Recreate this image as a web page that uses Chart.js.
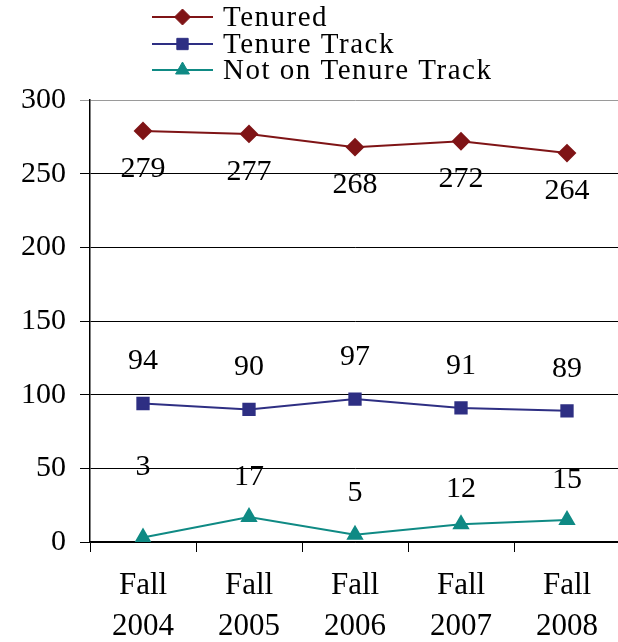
<!DOCTYPE html>
<html>
<head>
<meta charset="utf-8">
<script src="https://cdn.jsdelivr.net/npm/chart.js@4/dist/chart.umd.min.js"></script>
<style>
  html, body { margin: 0; padding: 0; background: #fff; overflow: hidden; }
  /* a bit wider than the window so the plot runs off the right edge */
  #wrap { width: 630px; height: 642px; }
</style>
</head>
<body>
<div id="wrap"><canvas id="chart"></canvas></div>
<script>
const categories = [['Fall', '2004'], ['Fall', '2005'], ['Fall', '2006'], ['Fall', '2007'], ['Fall', '2008']];
const tenured = [279, 277, 268, 272, 264];
const tenureTrack = [94, 90, 97, 91, 89];
const notOnTrack = [3, 17, 5, 12, 15];
const yTicks = [0, 50, 100, 150, 200, 250, 300];

const serif = '"Liberation Serif", "DejaVu Serif", serif';

// vertical legend with line + marker, drawn above the plot
const legendPlugin = {
  id: 'stackedLegend',
  afterDraw(chart) {
    const ctx = chart.ctx;
    const x0 = 152, x1 = 213, tx = 223;
    const rows = [17, 44, 70];
    ctx.save();
    chart.data.datasets.forEach((ds, i) => {
      const y = rows[i];
      ctx.strokeStyle = ds.borderColor;
      ctx.lineWidth = 2;
      ctx.beginPath();
      ctx.moveTo(x0, y);
      ctx.lineTo(x1, y);
      ctx.stroke();

      ctx.fillStyle = ds.pointBackgroundColor;
      ctx.strokeStyle = ds.pointBorderColor;
      ctx.lineWidth = 1;
      Chart.helpers.drawPoint(ctx, {
        pointStyle: ds.pointStyle,
        radius: ds.pointRadius,
        rotation: 0,
        borderWidth: 1
      }, (x0 + x1) / 2, y);

      ctx.fillStyle = '#000';
      ctx.font = '29px ' + serif;
      ctx.letterSpacing = '1.5px';
      ctx.textAlign = 'left';
      ctx.textBaseline = 'middle';
      ctx.fillText(ds.label, tx, y + 1);
    });
    ctx.restore();
  }
};

// value labels next to each point
const valueLabels = {
  id: 'valueLabels',
  afterDatasetsDraw(chart) {
    const ctx = chart.ctx;
    ctx.save();
    ctx.font = '30px ' + serif;
    ctx.fillStyle = '#000';
    ctx.textAlign = 'center';
    ctx.textBaseline = 'middle';
    chart.data.datasets.forEach((ds, i) => {
      const meta = chart.getDatasetMeta(i);
      meta.data.forEach((pt, j) => {
        const off = Array.isArray(ds.labelOffset) ? ds.labelOffset[j] : ds.labelOffset;
        ctx.fillText(String(ds.data[j]), pt.x, pt.y + off);
      });
    });
    ctx.restore();
  }
};

new Chart(document.getElementById('chart'), {
  type: 'line',
  data: {
    labels: categories,
    datasets: [
      {
        label: 'Tenured',
        data: tenured,
        borderColor: '#7f1416',
        backgroundColor: '#7f1416',
        pointBackgroundColor: '#7f1416',
        pointBorderColor: '#7f1416',
        pointStyle: 'rectRot',
        pointRadius: 8,
        borderWidth: 2,
        labelOffset: 38
      },
      {
        label: 'Tenure Track',
        data: tenureTrack,
        borderColor: '#2e2f83',
        backgroundColor: '#2e2f83',
        pointBackgroundColor: '#2e2f83',
        pointBorderColor: '#2e2f83',
        pointStyle: 'rect',
        pointRadius: 8,
        borderWidth: 2,
        labelOffset: -42
      },
      {
        label: 'Not on Tenure Track',
        data: notOnTrack,
        borderColor: '#0f8a84',
        backgroundColor: '#0f8a84',
        pointBackgroundColor: '#0f8a84',
        pointBorderColor: '#0f8a84',
        pointStyle: 'triangle',
        pointRadius: 8,
        borderWidth: 2,
        labelOffset: [-70, -40, -42, -35, -40]
      }
    ]
  },
  options: {
    responsive: true,
    maintainAspectRatio: false,
    animation: false,
    layout: { padding: { top: 100, right: 0, left: 0, bottom: 0 } },
    plugins: {
      legend: { display: false },
      tooltip: { enabled: false }
    },
    elements: { line: { tension: 0 } },
    scales: {
      x: {
        offset: true,
        grid: {
          offset: true,
          drawOnChartArea: false,
          color: '#000',
          tickLength: 10,
          lineWidth: 1
        },
        border: { color: '#000', width: 1.5 },
        ticks: {
          color: '#000',
          font: { family: serif, size: 31, lineHeight: 1.3 },
          padding: 14,
          maxRotation: 0
        },
        afterFit(scale) {
          scale.height = 100;
          scale.paddingRight = 0;
          scale.paddingLeft = 0;
        }
      },
      y: {
        min: 0,
        max: 300,
        afterBuildTicks(scale) { scale.ticks = yTicks.map(v => ({ value: v })); },
        grid: {
          color: ctx => ctx.tick && ctx.tick.value === 300 ? '#9a9a9a' : '#000',
          tickLength: 10,
          lineWidth: 1
        },
        border: { color: '#000', width: 1.5 },
        ticks: {
          color: '#000',
          font: { family: serif, size: 30 },
          padding: 14
        },
        afterFit(scale) { scale.width = 90; }
      }
    }
  },
  plugins: [legendPlugin, valueLabels]
});
</script>
</body>
</html>
